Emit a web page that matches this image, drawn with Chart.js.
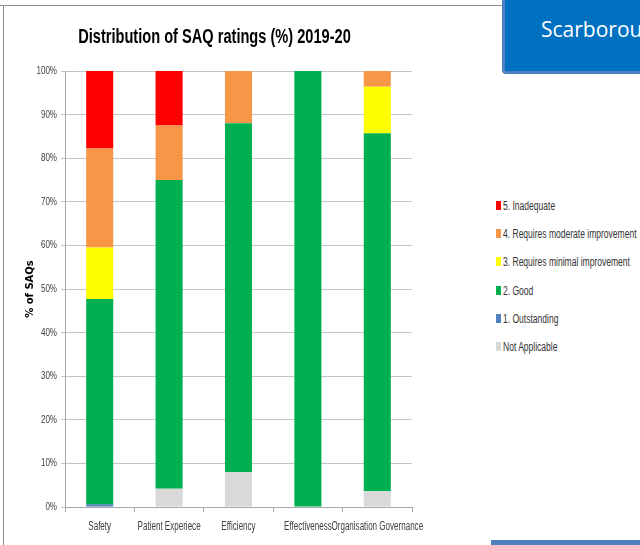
<!DOCTYPE html>
<html>
<head>
<meta charset="utf-8">
<script src="https://cdn.jsdelivr.net/npm/chart.js@4.4.0/dist/chart.umd.min.js"></script>
<style>
  html, body { margin: 0; padding: 0; background: #fff; overflow: hidden; }
  body { width: 640px; height: 545px; position: relative; font-family: 'Liberation Sans', sans-serif; }
  #frame { position: absolute; left: 3px; top: 5px; width: 700px; height: 600px; border-left: 1px solid #8c8c8c; border-top: 1px solid #8c8c8c; }
  #frameTop { position: absolute; left: 0; top: 5px; width: 4px; height: 1px; background: #8c8c8c; }
  #chartWrap { position: absolute; left: 0; top: 0; }
  #banner { position: absolute; left: 502px; top: -3px; width: 170px; height: 77px; background: #0070c0; border: 3px solid #4f81bd; border-radius: 4px; color: #fff; font-family: 'Open Sans', sans-serif; font-size: 21px; line-height: 58px; padding-left: 36px; box-sizing: border-box; white-space: nowrap; overflow: hidden; }
  #footer { position: absolute; left: 491px; top: 540px; width: 149px; height: 5px; background: #4f81bd; }
  .item { position: absolute; left: 496px; height: 14px; white-space: nowrap; }
  .box { position: absolute; left: 0; top: 2px; width: 5px; height: 9px; }
  .txt { position: absolute; left: 7px; top: 0; font-size: 12px; line-height: 14px; color: #333; transform: scaleX(0.71); transform-origin: left center; }
</style>
</head>
<body>
<div id="frame"></div>
<div id="frameTop"></div>
<div id="chartWrap"><canvas id="saqChart" width="430" height="545"></canvas></div>
<div id="banner">Scarborough</div>
<div id="legend"></div>
<div id="footer"></div>
<script>
// Data (percent of SAQs)
const categories = ['Safety', 'Patient Experiece', 'Efficiency', 'Effectiveness', 'Organisation Governance'];
const notApplicable = [0, 4.2, 8.0, 0, 3.6];
const outstanding = [0.6, 0, 0, 0, 0];
const good = [47.1, 70.8, 80.0, 100, 82.1];
const minimalImprovement = [11.8, 0, 0, 0, 10.7];
const moderateImprovement = [22.7, 12.5, 12.0, 0, 3.6];
const inadequate = [17.8, 12.5, 0, 0, 0];
const yTicks = [0, 10, 20, 30, 40, 50, 60, 70, 80, 90, 100];

const seriesNames = ['Not Applicable', '1. Outstanding', '2. Good', '3. Requires minimal improvement', '4. Requires moderate improvement', '5. Inadequate'];
const seriesValues = [notApplicable, outstanding, good, minimalImprovement, moderateImprovement, inadequate];
const seriesColors = ['#d9d9d9', '#4f81bd', '#00b050', '#ffff00', '#f79646', '#ff0000'];

const sans = "'Liberation Sans', Arial, sans-serif";
// the reference text is narrow (Calibri, squashed); factor per font size
const squeezeBySize = { 11: 0.73, 12: 0.67, 20: 0.73 };

// squash canvas text horizontally around its anchor point
const squeezeText = {
    id: 'squeezeText',
    beforeInit(chart) {
        const c = chart.ctx;
        const fill = c.fillText.bind(c);
        c.fillText = function(text, x, y, maxWidth) {
            const m = c.font.match(/(\d+)px/);
            const k = /Liberation/.test(c.font) && m ? (squeezeBySize[m[1]] || 0.73) : 1;
            if (k === 1) {
                return maxWidth === undefined ? fill(text, x, y) : fill(text, x, y, maxWidth);
            }
            c.save();
            c.translate(x, y);
            c.scale(k, 1);
            if (maxWidth === undefined) fill(text, 0, 0);
            else fill(text, 0, 0, maxWidth / k);
            c.restore();
        };
    }
};

const datasets = seriesNames.map((name, i) => ({
    label: name,
    data: seriesValues[i],
    backgroundColor: seriesColors[i],
    borderWidth: 0,
    categoryPercentage: 1,
    barPercentage: 0.39
}));

const ctx = document.getElementById('saqChart').getContext('2d');
new Chart(ctx, {
    type: 'bar',
    data: { labels: categories, datasets: datasets },
    plugins: [squeezeText],
    options: {
        responsive: false,
        animation: false,
        devicePixelRatio: 1,
        layout: { padding: { left: 17, right: 18, top: 0, bottom: 0 } },
        plugins: {
            legend: { display: false },
            tooltip: { enabled: false },
            title: {
                display: true,
                text: 'Distribution of SAQ ratings (%) 2019-20',
                color: '#000',
                font: { family: sans, size: 20, weight: 'bold', lineHeight: 1.2 },
                padding: { top: 25, bottom: 22 }
            }
        },
        scales: {
            x: {
                stacked: true,
                afterFit: s => { s.height = 38; s.paddingLeft = 0; s.paddingRight = 0; },
                grid: { display: true, drawOnChartArea: false, offset: true, tickLength: 5, color: '#a6a6a6' },
                border: { display: true, color: '#a6a6a6' },
                ticks: {
                    autoSkip: false, maxRotation: 0, minRotation: 0,
                    padding: 7, color: '#404040',
                    font: { family: sans, size: 12 }
                }
            },
            y: {
                stacked: true,
                min: 0, max: 100,
                afterFit: s => { s.width = 48; s.paddingTop = 0; s.paddingBottom = 0; },
                afterBuildTicks: s => { s.ticks = yTicks.map(v => ({ value: v })); },
                grid: { color: '#c4c4c4', tickLength: 4 },
                border: { display: true, color: '#a6a6a6' },
                ticks: {
                    padding: 4, color: '#404040',
                    font: { family: sans, size: 11 },
                    callback: v => v + '%'
                },
                title: {
                    display: true,
                    text: '% of SAQs',
                    color: '#000',
                    font: { family: 'DejaVu Sans', size: 10, weight: 'bold' },
                    padding: { top: 7, bottom: 0 }
                }
            }
        }
    }
});

// Legend, top entry first as in the reference
const legend = document.getElementById('legend');
for (let i = seriesNames.length - 1, row = 0; i >= 0; i--, row++) {
    const item = document.createElement('div');
    item.className = 'item';
    item.style.top = Math.round(199 + row * 28.2) + 'px';
    item.innerHTML = '<span class="box" style="background:' + seriesColors[i] + '"></span><span class="txt">' + seriesNames[i] + '</span>';
    legend.appendChild(item);
}
</script>
</body>
</html>
